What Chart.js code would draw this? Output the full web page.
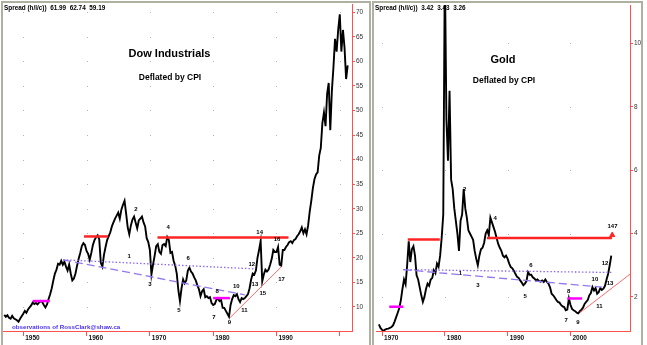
<!DOCTYPE html>
<html>
<head>
<meta charset="utf-8">
<script src="https://cdn.jsdelivr.net/npm/chart.js@4/dist/chart.umd.min.js"></script>
<style>
  body { margin: 0; background: #fff; width: 647px; height: 345px; overflow: hidden; position: relative; }
  canvas { position: absolute; top: 0; }
  #dowChart { left: 0; }
  #goldChart { left: 371px; }
  .frame { position: absolute; top: 1px; height: 360px; border: 2px solid #b0b0a2; border-bottom: none; box-sizing: border-box; pointer-events: none; }
</style>
</head>
<body>
<canvas id="dowChart" width="371" height="345"></canvas>
<canvas id="goldChart" width="276" height="345"></canvas>
<div class="frame" style="left:1px;width:370px"></div>
<div class="frame" style="left:372px;width:271px"></div>
<script>
// Dow Industrials deflated by CPI, quarterly from 1947.0
const dowStart = 1947.0;
const dowValues = [
  8.4, 8.0, 8.3, 7.8,   7.6, 8.2, 7.7, 7.5,   7.3, 7.0, 7.6, 8.1,   8.6, 9.2, 8.8, 9.5,
  9.9, 10.3, 10.9, 10.6, 10.8, 10.5, 10.9, 11.2, 11.0, 10.4, 9.9, 10.5, 11.6, 12.6, 13.8, 15.4,
  16.8, 17.6, 18.8, 18.6, 19.4, 18.6, 19.2, 18.2, 17.4, 18.6, 16.8, 15.4, 15.8, 16.8, 18.4, 19.8,
  21.0, 22.4, 23.0, 22.6, 21.4, 20.8, 19.6, 21.0, 22.6, 23.6, 24.2, 24.6, 23.8, 19.0, 18.2, 20.6,
  22.2, 23.6, 24.4, 25.2, 26.4, 27.2, 28.0, 28.6, 29.2, 28.0, 29.8, 30.8, 31.6, 29.0, 26.2, 24.8,
  26.6, 27.8, 28.4, 27.2, 26.0, 27.6, 28.0, 28.4, 27.2, 26.4, 24.0, 23.2, 21.6, 16.6, 18.6, 20.4,
  22.4, 22.8, 21.2, 20.8, 22.6, 22.8, 22.4, 24.2, 23.6, 21.0, 21.2, 19.4, 18.4, 16.8, 13.4, 11.2,
  13.8, 15.6, 14.8, 15.4, 17.4, 18.0, 17.2, 16.8, 16.0, 15.4, 14.4, 13.6, 12.2, 13.2, 13.6, 12.0,
  12.2, 11.8, 12.0, 10.8, 10.4, 10.6, 11.4, 11.8, 11.2, 11.4, 9.8, 9.8,  9.2, 8.6, 8.0, 10.4,
  11.6, 12.4, 12.2, 12.6, 11.6, 11.0, 11.8, 11.6, 11.8, 12.2, 12.6, 13.8, 15.6, 16.8, 16.6, 17.4,
  20.0, 21.6, 23.4, 15.2, 16.6, 17.6, 17.2, 17.6, 18.6, 19.8, 21.6, 21.2, 21.2, 22.2, 18.6, 18.4,
  21.6, 21.6, 22.2, 22.6, 23.2, 23.4, 23.0, 23.6, 23.8, 24.4, 24.8, 25.4, 26.2, 25.0, 25.8, 24.8,
  26.6, 29.4, 31.6, 34.2, 36.0, 37.0, 37.4, 40.8, 42.4, 47.4, 49.6, 46.8, 53.4, 55.6, 46.0, 54.0,
  58.8, 64.6, 62.0, 66.4, 69.6, 62.0, 66.4, 62.8, 56.4, 59.2
];
const dowYearTicks = [1950, 1960, 1970, 1980, 1990, 2000];
const dowValueTicks = [10, 15, 20, 25, 30, 35, 40, 45, 50, 55, 60, 65, 70];

// Dow chart annotations [x1, y1, x2, y2]
const dowRedLines = [[1959.6, 24.35, 1963.4, 24.35], [1971.2, 24.15, 1991.9, 24.15]];
const dowMagentaLines = [[1951.5, 11.2, 1954.2, 11.2], [1980.0, 11.8, 1982.65, 11.8]];
const dowDotted = [1956.3, 19.6, 1986.6, 17.75];
const dowDashed = [1956.3, 19.6, 1985.0, 12.45];
const dowSupport = [1982.65, 7.8, 1990.8, 18.2];
const dowMarkText = ['1', '2', '3', '4', '5', '6', '7', '8', '9', '10', '11', '12', '13', '14', '15', '16', '17'];
const dowMarkX = [1966.75, 1967.8, 1970.0, 1972.9, 1974.6, 1976.05, 1980.1, 1980.65, 1982.55, 1983.65, 1984.95, 1986.1, 1986.6, 1987.35, 1987.85, 1990.1, 1990.8];
const dowMarkY = [20.2, 29.8, 14.7, 26.2, 9.3, 19.8, 7.8, 13.1, 6.9, 14.1, 9.3, 18.6, 14.6, 25.2, 12.7, 23.8, 15.7];

// Gold deflated by CPI, quarterly from 1969.5
const goldStart = 1969.5;
const goldValues = [
  1.13, 1.02,
  0.96, 0.93, 0.97, 0.99,  1.0, 1.02, 1.05, 1.1,   1.22, 1.36, 1.5, 1.65,  1.9, 2.25, 2.55, 2.4,
  3.0, 3.75, 3.1, 3.5,     3.6, 3.3, 2.68, 2.55,   2.3, 2.05, 1.84, 2.0,   2.25, 2.42, 2.35, 2.55,
  2.6, 2.84, 2.75, 3.05,   2.95, 3.3, 3.88, 4.6,   12.5, 7.6, 6.3, 8.5,    5.7, 5.4, 4.8, 4.4,
  4.0, 3.45, 4.4, 4.6,     5.4, 4.8, 4.5, 4.1,     4.0, 3.9, 3.8, 3.45,    3.2, 3.0, 3.3, 3.5,
  3.55, 3.7, 4.0, 4.1,     3.95, 4.5, 4.35, 4.2,   4.05, 3.85, 3.67, 3.55, 3.45, 3.3, 3.25, 3.3,
  3.2, 3.05, 2.94, 2.9,    2.82, 2.72, 2.63, 2.6,  2.52, 2.45, 2.37, 2.42, 2.5, 2.78, 2.7, 2.7,
  2.62, 2.58, 2.52, 2.55,  2.5, 2.48, 2.52, 2.47,  2.55, 2.47, 2.42, 2.3,  2.1, 2.05, 1.98, 1.9,
  1.84, 1.82, 1.75, 1.7,   1.68, 1.58, 1.6, 1.95,  1.75, 1.62, 1.58, 1.55, 1.5, 1.48, 1.55, 1.6,
  1.66, 1.78, 1.84, 1.9,   2.05, 2.12, 2.31, 2.2,  2.28, 2.1, 2.15, 2.28,  2.22, 2.26, 2.35, 2.55,
  2.73, 3.0, 3.3
];
const goldYearTicks = [1970, 1980, 1990, 2000];
const goldValueTicks = [2, 4, 6, 8, 10];

const goldRedLines = [[1974.1, 3.81, 1979.2, 3.81], [1986.7, 3.86, 2006.6, 3.86]];
const goldMagentaLines = [[1971.15, 1.69, 1973.4, 1.69], [1999.5, 1.95, 2001.85, 1.95]];
const goldDotted = [1973.4, 2.86, 2006.75, 2.77];
const goldDashed = [1973.4, 2.86, 2005.0, 2.31];
const goldSupport = [2001.5, 1.5, 2009.5, 2.72];
const goldEndMarker = [2006.65, 3.95];
const goldMarkText = ['1', '2', '3', '4', '5', '6', '7', '8', '9', '10', '11', '12', '13', '147'];
const goldMarkX = [1982.5, 1983.15, 1985.25, 1988.0, 1992.8, 1993.7, 1999.3, 1999.7, 2001.2, 2003.9, 2004.6, 2005.5, 2006.3, 2006.7];
const goldMarkY = [2.73, 5.4, 2.37, 4.49, 2.02, 2.99, 1.27, 2.16, 1.19, 2.55, 1.71, 3.07, 2.44, 4.23];

const QUARTER = 0.25;
const FONT = '"Liberation Sans", Arial, sans-serif';
const AXIS_RED = '#ff5050';

Chart.defaults.font.family = FONT;

function segment(p, color, width, dash) {
  return {
    data: [{x: p[0], y: p[1]}, {x: p[2], y: p[3]}],
    borderColor: color, borderWidth: width, borderDash: dash || [],
    pointRadius: 0, order: 1
  };
}

const overlay = {
  id: 'overlay',
  beforeDatasetsDraw(chart) {
    const {ctx, scales: {x, y}} = chart;
    ctx.save();
    ctx.fillStyle = '#b4b4b4';
    x.ticks.forEach(tx => {
      y.ticks.forEach(ty => {
        ctx.fillRect(Math.round(x.getPixelForValue(tx.value)), Math.round(y.getPixelForValue(ty.value)), 1, 1);
      });
    });
    ctx.restore();
  },
  afterDatasetsDraw(chart, args, opts) {
    const {ctx, scales: {x, y}} = chart;
    ctx.save();
    ctx.fillStyle = '#000';
    ctx.textAlign = 'center';
    ctx.textBaseline = 'middle';
    ctx.font = 'bold 6px ' + FONT;
    opts.marks.forEach((t, i) => {
      ctx.fillText(t, x.getPixelForValue(opts.markX[i]), y.getPixelForValue(opts.markY[i]));
    });
    ctx.font = 'bold 11px ' + FONT;
    ctx.fillText(opts.title, opts.titlePos[0], opts.titlePos[1]);
    ctx.font = 'bold 8.5px ' + FONT;
    ctx.fillText('Deflated by CPI', opts.subPos[0], opts.subPos[1]);
    ctx.textAlign = 'left';
    ctx.font = 'bold 6.4px ' + FONT;
    ctx.fillText(opts.header, 4, 8);
    if (opts.credit) {
      ctx.fillStyle = '#4b2ff0';
      ctx.font = 'bold 6.2px ' + FONT;
      ctx.fillText(opts.credit, 12, 327.5);
    }
    ctx.restore();
  }
};

function axes(xMin, xMax, yMin, yMax, xTicks, yTicks, yWidth, hideYear) {
  return {
    x: {
      type: 'linear', min: xMin, max: xMax,
      afterBuildTicks: s => { s.ticks = xTicks.map(v => ({value: v})); },
      afterFit: s => { s.height = 14; },
      border: {color: AXIS_RED, width: 1},
      grid: {drawOnChartArea: false, color: AXIS_RED, tickLength: 5},
      ticks: {
        align: 'start', labelOffset: 2, padding: -2, maxRotation: 0, autoSkip: false,
        color: '#111', font: {size: 6.5, weight: 'bold'},
        callback: v => (v === hideYear ? '' : String(v))
      }
    },
    y: {
      position: 'right', min: yMin, max: yMax,
      afterBuildTicks: s => { s.ticks = yTicks.map(v => ({value: v})); },
      afterFit: s => { s.width = yWidth; },
      border: {color: AXIS_RED, width: 1},
      grid: {drawOnChartArea: false, color: AXIS_RED, tickLength: 3},
      ticks: {padding: 1, color: '#333', font: {size: 6.5}}
    }
  };
}

const baseOptions = {
  responsive: false,
  animation: false,
  devicePixelRatio: 1,
  layout: {padding: {left: 3, top: 3, right: 0, bottom: 0}},
  plugins: {legend: {display: false}, tooltip: {enabled: false}}
};

new Chart(document.getElementById('dowChart'), {
  type: 'line',
  data: {
    datasets: [
      {data: dowValues.map((v, i) => ({x: dowStart + i * QUARTER, y: v})), borderColor: '#000', borderWidth: 1.9, pointRadius: 0, order: 10},
      ...dowRedLines.map(p => segment(p, '#ff2424', 2.5)),
      ...dowMagentaLines.map(p => segment(p, '#ff00ff', 2.5)),
      segment(dowDotted, '#8c6af0', 1.3, [1.5, 2]),
      segment(dowDashed, '#9478f0', 1.3, [8, 4]),
      segment(dowSupport, '#ff6a6a', 1)
    ]
  },
  options: {
    ...baseOptions,
    scales: axes(1946.8, 2001.93, 5.1, 71.5, dowYearTicks, dowValueTicks, 19, 2000),
    plugins: {
      ...baseOptions.plugins,
      overlay: {
        marks: dowMarkText, markX: dowMarkX, markY: dowMarkY,
        title: 'Dow Industrials', titlePos: [169.5, 54], subPos: [170, 77.5],
        header: 'Spread (h/l/c))  61.99  62.74  59.19',
        credit: 'observations of RossClark@shaw.ca'
      }
    }
  },
  plugins: [overlay]
});

new Chart(document.getElementById('goldChart'), {
  type: 'line',
  data: {
    datasets: [
      {data: goldValues.map((v, i) => ({x: goldStart + i * QUARTER, y: v})), borderColor: '#000', borderWidth: 1.9, pointRadius: 0, order: 10},
      ...goldRedLines.map(p => segment(p, '#ff2424', 2.5)),
      ...goldMagentaLines.map(p => segment(p, '#ff00ff', 2.5)),
      segment(goldDotted, '#8c6af0', 1.3, [1.5, 2]),
      segment(goldDashed, '#9478f0', 1.3, [8, 4]),
      segment(goldSupport, '#ff6a6a', 1),
      {data: [{x: goldEndMarker[0], y: goldEndMarker[1]}], showLine: false, pointStyle: 'triangle', pointRadius: 3, backgroundColor: '#ff2424', borderColor: '#ff2424', order: 1}
    ]
  },
  options: {
    ...baseOptions,
    scales: axes(1969.04, 2009.48, 0.924, 11.21, goldYearTicks, goldValueTicks, 17, null),
    plugins: {
      ...baseOptions.plugins,
      overlay: {
        marks: goldMarkText, markX: goldMarkX, markY: goldMarkY,
        title: 'Gold', titlePos: [132, 60], subPos: [133, 80.5],
        header: 'Spread (h/l/c))  3.42  3.43  3.26'
      }
    }
  },
  plugins: [overlay]
});
</script>
</body>
</html>
